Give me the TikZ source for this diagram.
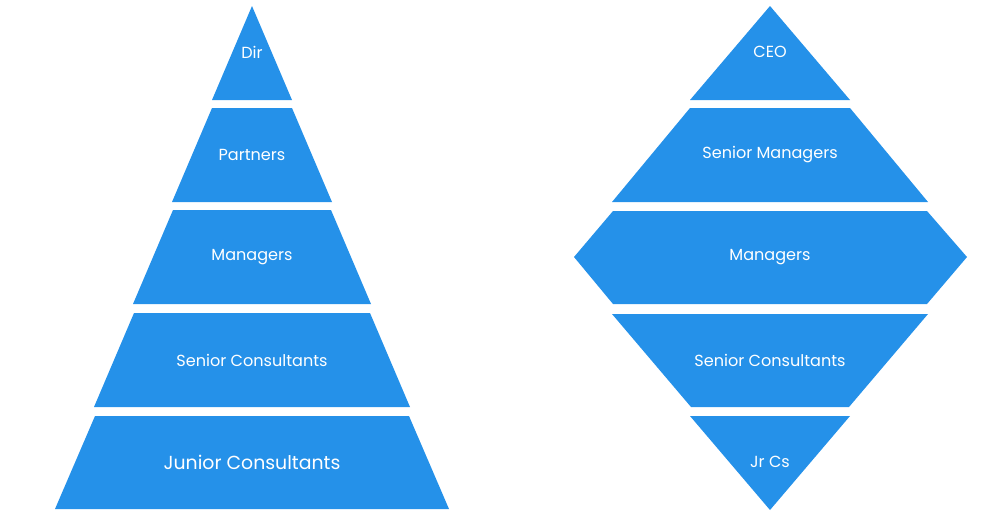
\documentclass[tikz,border=0pt]{standalone}
\usepackage{fontspec}
\setmainfont{Poppins}
\usepackage{tikz}
\definecolor{pyrblue}{RGB}{37,145,233}
\tikzset{%
  layer/.style = {fill=pyrblue, draw=none},
  lbl/.style   = {text=white, font=\fontsize{9.15}{11}\selectfont, inner sep=0pt},
  biglbl/.style = {lbl, font=\fontsize{10.75}{13}\selectfont}
}

\begin{document}
\begin{tikzpicture}[x=0.02cm, y=-0.02cm]
\useasboundingbox (0,0) rectangle (1000,514);
% left pyramid
\fill[layer] (252,6) -- (292,100) -- (212,100) -- cycle;
\fill[layer] (212,108) -- (292,108) -- (332,202) -- (172,202) -- cycle;
\fill[layer] (173,210) -- (331,210) -- (371,304) -- (133,304) -- cycle;
\fill[layer] (134,313) -- (370,313) -- (410,407) -- (94,407) -- cycle;
\fill[layer] (95,416) -- (409,416) -- (449,509) -- (55,509) -- cycle;
\node[lbl, name=Dir] at (252,52) {Dir};
\node[lbl, name=Partners] at (252,155) {Partners};
\node[lbl, name=LManagers] at (252,257) {Managers};
\node[lbl, name=LSenior] at (252,360) {Senior Consultants};
\node[biglbl, name=Junior] at (252,462) {Junior Consultants};
% right diamond
\fill[layer] (770,6) -- (850,100) -- (690,100) -- cycle;
\fill[layer] (690,108) -- (850,108) -- (928,202) -- (612,202) -- cycle;
\fill[layer] (613,211) -- (927,211) -- (967,257) -- (927,304) -- (613,304) -- (574,257) -- cycle;
\fill[layer] (612,314) -- (928,314) -- (849,407) -- (691,407) -- cycle;
\fill[layer] (690,416) -- (850,416) -- (770,510) -- cycle;
\node[lbl, name=CEO] at (770,52) {CEO};
\node[lbl, name=SeniorMgr] at (770,155) {Senior Managers};
\node[lbl, name=RManagers] at (770,257) {Managers};
\node[lbl, name=RSenior] at (770,360) {Senior Consultants};
\node[lbl, name=JrCs] at (770,462) {Jr Cs};
\end{tikzpicture}
\end{document}
